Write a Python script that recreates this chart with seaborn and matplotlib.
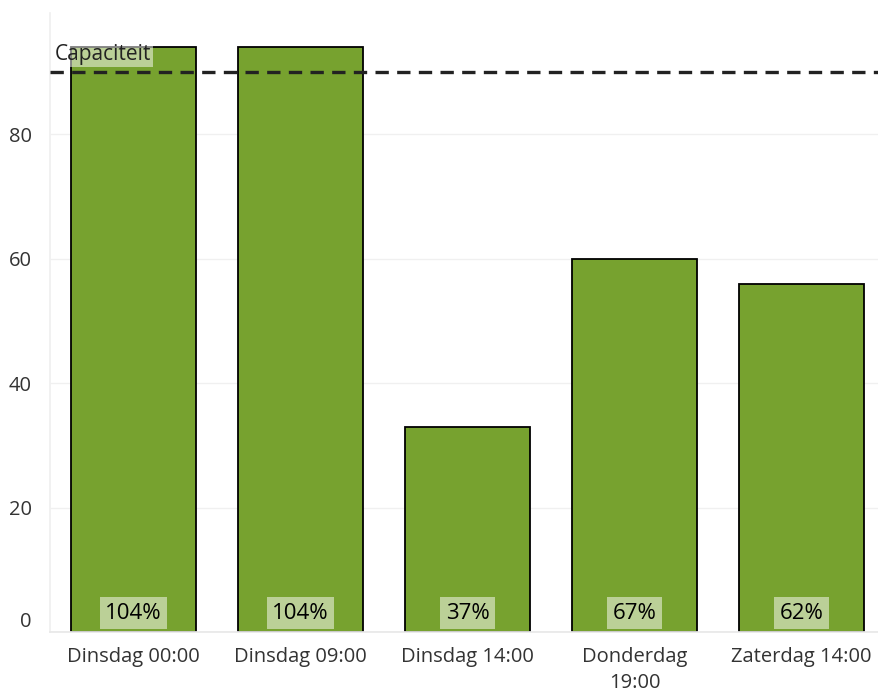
import numpy as np
import pandas as pd
import seaborn as sns
import matplotlib.pyplot as plt

# data
momenten = ['Dinsdag 00:00', 'Dinsdag 09:00', 'Dinsdag 14:00', 'Donderdag\n19:00', 'Zaterdag 14:00']
bezetting = [94, 94, 33, 60, 56]
percentages = ['104%', '104%', '37%', '67%', '62%']
capaciteit = 90

sns.set_theme(style='white')
plt.rcParams['font.family'] = ['Open Sans', 'DejaVu Sans']

df = pd.DataFrame({'moment': momenten, 'bezetting': bezetting})

fig = plt.figure(figsize=(8.79, 6.97), dpi=100)
ax = fig.add_axes([50 / 879, 1 - 632 / 697, 835 / 879, 619 / 697])

sns.barplot(data=df, x='moment', y='bezetting', color='#77a22f', saturation=1,
            width=0.745, edgecolor='black', linewidth=1.3, ax=ax, zorder=2)

ax.set_xlim(-0.5, len(momenten) - 0.5)
ax.set_ylim(0, 99.5)
ax.set_yticks([0, 20, 40, 60, 80])
ax.grid(axis='y', color='#f0f0f0', linewidth=1, zorder=0)
ax.set_axisbelow(True)
ax.set_xlabel('')
ax.set_ylabel('')

for s in ['top', 'right']:
    ax.spines[s].set_visible(False)
ax.spines['left'].set_color('#f0f0f0')
ax.spines['bottom'].set_color('#e8e8e8')

ax.tick_params(axis='y', length=10, color='#f0f0f0', labelsize=14.5, labelcolor='#333333', pad=3)
ax.tick_params(axis='x', length=0, labelsize=14.5, labelcolor='#333333', pad=11)
for lbl in ax.get_xticklabels():
    lbl.set_linespacing(1.35)
ax.set_xticks(np.arange(-0.5, len(momenten), 1), minor=True)
ax.tick_params(axis='x', which='minor', length=8, color='#e8e8e8')
ax.get_yticklabels()[0].set_va('bottom')

# capaciteit line + label
ax.axhline(capaciteit, color='#222222', linestyle=(0, (4, 2.5)), linewidth=2.4, zorder=3)
ax.text(-0.47, capaciteit + 2.8, 'Capaciteit', fontsize=15, color='#222222', va='center',
        ha='left', zorder=4,
        bbox=dict(boxstyle='square,pad=0.1', facecolor='white', alpha=0.5, edgecolor='none'))

# percentage labels at the bottom of every bar
for i, p in enumerate(percentages):
    ax.text(i, 3.0, p, ha='center', va='center', fontsize=16, color='black', zorder=4,
            bbox=dict(boxstyle='square,pad=0.25', facecolor='white', alpha=0.5, edgecolor='none'))

fig.savefig('out.png', dpi=100)
